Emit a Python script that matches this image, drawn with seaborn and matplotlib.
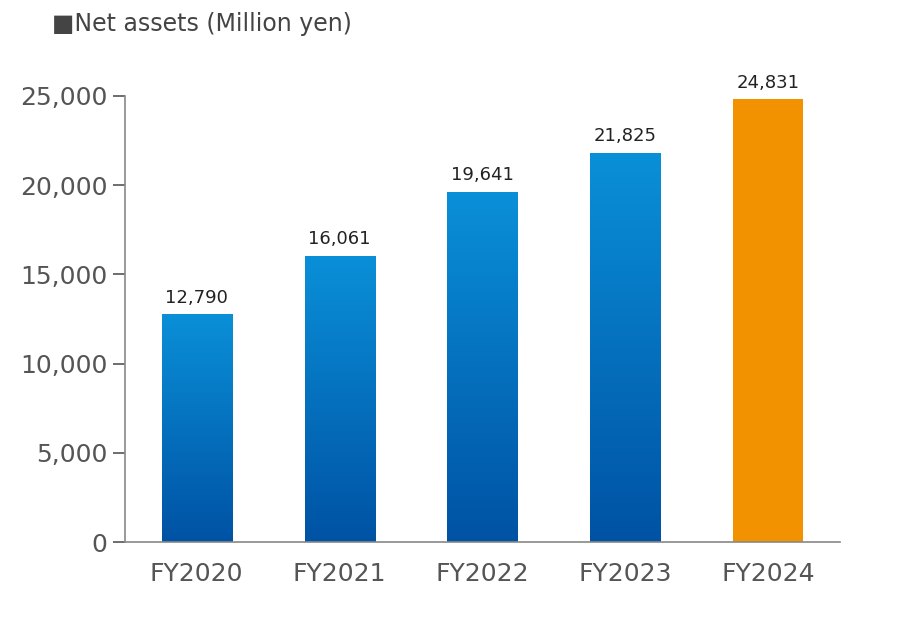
import matplotlib
matplotlib.use("Agg")
import matplotlib.pyplot as plt
import seaborn as sns
import numpy as np
import pandas as pd
from matplotlib.colors import LinearSegmentedColormap

categories = ["FY2020", "FY2021", "FY2022", "FY2023", "FY2024"]
values = [12790, 16061, 19641, 21825, 24831]
yticks = [0, 5000, 10000, 15000, 20000, 25000]

df = pd.DataFrame({"cat": categories, "val": values})
fig = plt.figure(figsize=(9.01, 6.19), dpi=100)
ax = fig.add_axes([0.139, 0.124, 0.793, 0.721])
sns.barplot(data=df, x="cat", y="val", ax=ax, width=0.49,
            palette=["#0070c0"] * 4 + ["#f39200"], hue="cat", legend=False, saturation=1)
ax.set_xlim(-0.5, 4.5)
ax.set_ylim(0, 25000)

cmap = LinearSegmentedColormap.from_list("g", ["#0052a4", "#0a90d8"])
grad = np.linspace(0, 1, 256).reshape(-1, 1)
for i, p in enumerate(ax.patches[:4]):
    x0, w, h = p.get_x(), p.get_width(), p.get_height()
    im = ax.imshow(grad, cmap=cmap, aspect="auto", origin="lower",
                   extent=[x0, x0 + w, 0, h], zorder=p.get_zorder() + 0.1)
    im.set_clip_path(p)
ax.set_xlim(-0.5, 4.5)
ax.set_ylim(0, 25000)

for i, v in enumerate(values):
    ax.text(i, v + 400, f"{v:,}", ha="center", va="bottom", fontsize=13, color="#222222")

ax.set_yticks(yticks)
ax.set_yticklabels([f"{t:,}" for t in yticks])
ax.tick_params(axis="y", labelsize=18, colors="#555555", length=9, width=1.2, direction="out", pad=4)
ax.tick_params(axis="y", labelcolor="#555555")
ax.tick_params(axis="x", labelsize=18, length=0, pad=14, labelcolor="#555555")
for s in ["top", "right"]:
    ax.spines[s].set_visible(False)
for s in ["left", "bottom"]:
    ax.spines[s].set_color("#888888")
    ax.spines[s].set_linewidth(1.2)
ax.set_xlabel("")
ax.set_ylabel("")
fig.text(0.058, 0.962, "■Net assets (Million yen)", fontsize=17, color="#444444", va="center")
fig.savefig("out.png", dpi=100)
